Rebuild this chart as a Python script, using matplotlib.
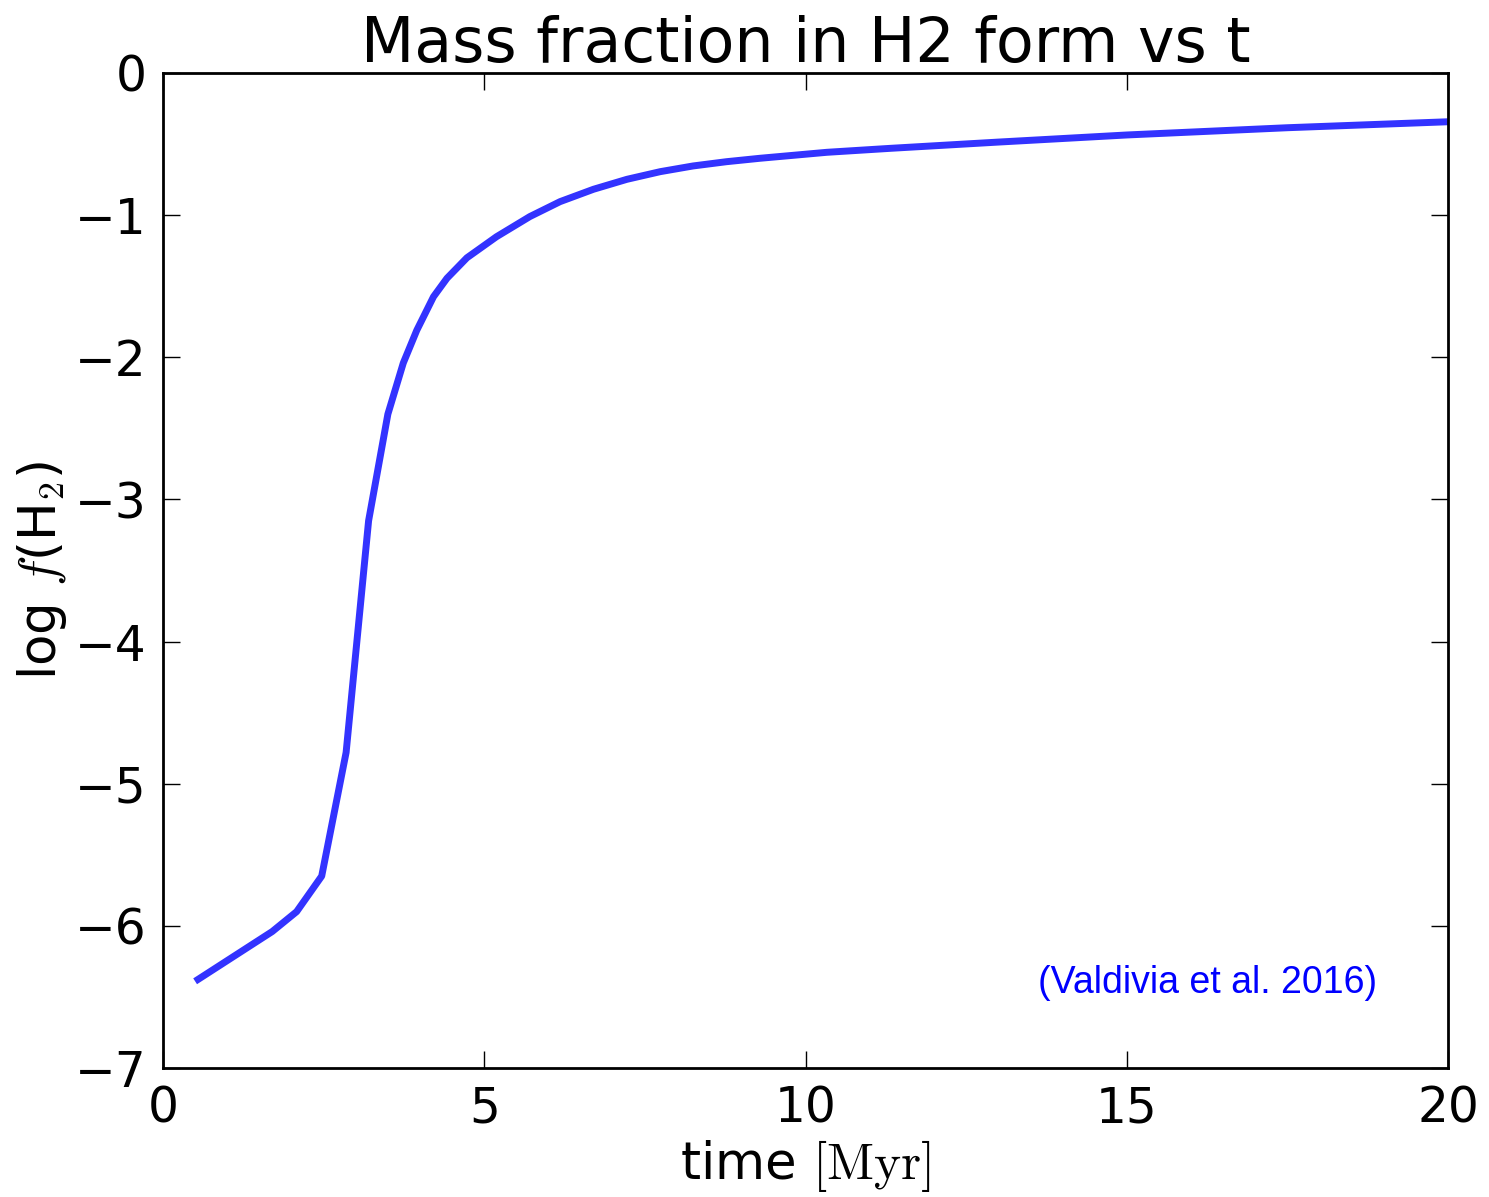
import matplotlib
matplotlib.use("Agg")
import matplotlib.pyplot as plt

time_myr = [0.5, 1.7, 2.08, 2.47, 2.85, 3.2, 3.5, 3.74, 3.95, 4.21, 4.42, 4.73, 5.19,
            5.71, 6.18, 6.70, 7.22, 7.74, 8.25, 8.77, 9.29, 9.86, 10.33, 11.32,
            13.0, 15.0, 17.5, 20.0]
log_fh2 = [-6.39, -6.04, -5.90, -5.65, -4.78, -3.15, -2.40, -2.04, -1.81, -1.574, -1.444, -1.30, -1.152,
           -1.01, -0.905, -0.818, -0.748, -0.694, -0.654, -0.624, -0.600, -0.577, -0.558, -0.530,
           -0.486, -0.436, -0.385, -0.343]
x_ticks = [0, 5, 10, 15, 20]
y_ticks = [-7, -6, -5, -4, -3, -2, -1, 0]

plt.rcParams['mathtext.fontset'] = 'cm'
plt.rcParams['font.family'] = ['DejaVu Sans']

fig = plt.figure(figsize=(14.89, 11.97), dpi=100)
ax = fig.add_axes([163/1489, 1 - 1068/1197, (1448-163)/1489, (1068-73)/1197])

ax.plot(time_myr, log_fh2, color='#3333ff', lw=5, solid_capstyle='butt',
        solid_joinstyle='round')

ax.set_xlim(0, 20)
ax.set_ylim(-7, 0)
ax.set_xticks(x_ticks)
ax.set_yticks(y_ticks)
ax.set_yticklabels([f"\u2212{abs(v)}" if v < 0 else f"{v}" for v in y_ticks])
ax.tick_params(direction='in', length=12, width=1, top=True, right=True,
               labelsize=35, pad=12)
for s in ax.spines.values():
    s.set_linewidth(2)

ax.set_title('Mass fraction in H2 form vs t', fontsize=44.5, pad=8)
ax.set_xlabel(r'time $\mathrm{[Myr]}$', fontsize=37, labelpad=4)
ax.set_ylabel(r'log $f$(H$_2$)', fontsize=37, labelpad=4)

ax.text(0.813, 0.085, '(Valdivia et al. 2016)', transform=ax.transAxes,
        fontsize=27, color='blue', family='Liberation Sans', ha='center', va='center')

fig.savefig('out.png', dpi=100)
